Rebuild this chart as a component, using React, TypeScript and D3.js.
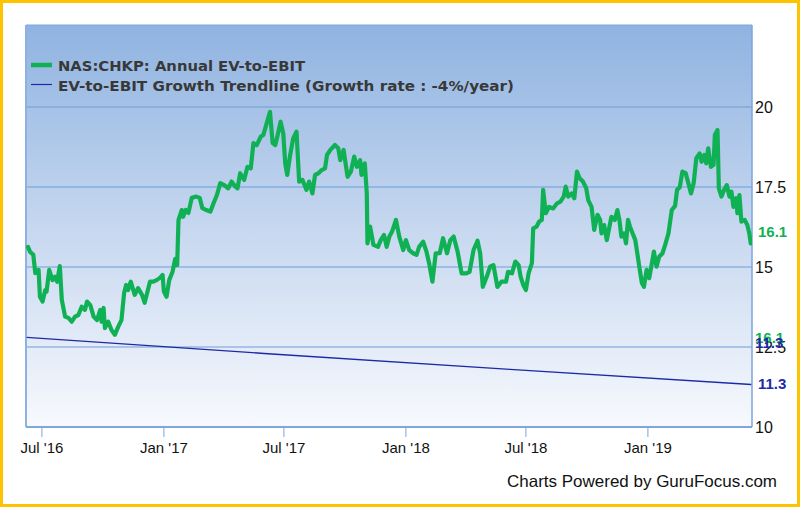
import React from "react";
import * as d3 from "d3";

const seriesDates: string[] = [
  "2016-06-10","2016-06-13","2016-06-18","2016-06-21","2016-06-26","2016-06-28","2016-07-02","2016-07-06","2016-07-08","2016-07-12",
  "2016-07-17","2016-07-21","2016-07-24","2016-07-28","2016-07-31","2016-08-05","2016-08-10","2016-08-15","2016-08-20","2016-08-25",
  "2016-08-30","2016-09-04","2016-09-07","2016-09-12","2016-09-17","2016-09-22","2016-09-27","2016-09-29","2016-10-02","2016-10-04",
  "2016-10-09","2016-10-14","2016-10-19","2016-10-24","2016-10-29","2016-11-02","2016-11-05","2016-11-08","2016-11-12","2016-11-18",
  "2016-11-23","2016-11-29","2016-12-03","2016-12-11","2016-12-16","2016-12-21","2016-12-26","2016-12-30","2017-01-01","2017-01-05",
  "2017-01-09","2017-01-14","2017-01-18","2017-01-21","2017-01-23","2017-01-28","2017-01-30","2017-02-03","2017-02-07","2017-02-12",
  "2017-02-19","2017-02-24","2017-02-28","2017-03-06","2017-03-12","2017-03-17","2017-03-22","2017-03-27","2017-04-02","2017-04-08",
  "2017-04-13","2017-04-18","2017-04-22","2017-04-26","2017-05-02","2017-05-07","2017-05-12","2017-05-16","2017-05-21","2017-05-27",
  "2017-05-31","2017-06-05","2017-06-10","2017-06-14","2017-06-18","2017-06-21","2017-06-26","2017-06-30","2017-07-03","2017-07-06",
  "2017-07-10","2017-07-15","2017-07-20","2017-07-24","2017-07-29","2017-08-04","2017-08-08","2017-08-13","2017-08-17","2017-08-22",
  "2017-08-27","2017-09-01","2017-09-04","2017-09-09","2017-09-16","2017-09-21","2017-09-24","2017-09-29","2017-10-05","2017-10-10",
  "2017-10-15","2017-10-19","2017-10-24","2017-10-26","2017-10-31","2017-11-03","2017-11-04","2017-11-08","2017-11-13","2017-11-20",
  "2017-11-24","2017-11-29","2017-12-03","2017-12-07","2017-12-11","2017-12-17","2017-12-22","2017-12-28","2018-01-01","2018-01-06",
  "2018-01-12","2018-01-17","2018-01-21","2018-01-27","2018-02-01","2018-02-05","2018-02-10","2018-02-15","2018-02-21","2018-02-26",
  "2018-03-04","2018-03-09","2018-03-14","2018-03-20","2018-03-26","2018-04-02","2018-04-07","2018-04-13","2018-04-19","2018-04-23",
  "2018-04-27","2018-05-03","2018-05-08","2018-05-13","2018-05-19","2018-05-25","2018-06-01","2018-06-04","2018-06-10","2018-06-15",
  "2018-06-20","2018-06-23","2018-06-27","2018-07-01","2018-07-05","2018-07-10","2018-07-12","2018-07-17","2018-07-21","2018-07-25",
  "2018-07-27","2018-07-31","2018-08-05","2018-08-11","2018-08-17","2018-08-22","2018-08-27","2018-08-30","2018-09-03","2018-09-08",
  "2018-09-12","2018-09-16","2018-09-20","2018-09-25","2018-09-30","2018-10-03","2018-10-08","2018-10-12","2018-10-17","2018-10-21",
  "2018-10-23","2018-10-27","2018-10-31","2018-11-04","2018-11-07","2018-11-12","2018-11-16","2018-11-19","2018-11-22","2018-11-26",
  "2018-11-29","2018-12-02","2018-12-05","2018-12-09","2018-12-13","2018-12-16","2018-12-19","2018-12-23","2018-12-26","2018-12-30",
  "2019-01-03","2019-01-07","2019-01-10","2019-01-14","2019-01-18","2019-01-23","2019-01-27","2019-02-01","2019-02-06","2019-02-11",
  "2019-02-14","2019-02-18","2019-02-22","2019-02-27","2019-03-03","2019-03-07","2019-03-11","2019-03-15","2019-03-20","2019-03-23",
  "2019-03-27","2019-03-30","2019-04-02","2019-04-06","2019-04-10","2019-04-12","2019-04-16","2019-04-18","2019-04-22","2019-04-26",
  "2019-04-30","2019-05-04","2019-05-07","2019-05-10","2019-05-14","2019-05-16","2019-05-19","2019-05-22","2019-05-27","2019-05-31",
  "2019-06-03","2019-06-05",
];

const evToEbit: number[] = [
  15.63,15.48,15.38,14.81,14.91,14.07,13.92,14.28,14.23,14.91,
  14.59,14.70,14.54,15.03,13.97,13.45,13.41,13.29,13.45,13.50,
  13.76,13.66,13.92,13.81,13.45,13.34,13.66,13.29,13.72,13.09,
  13.29,13.03,12.88,13.13,13.34,14.19,14.44,14.28,14.54,14.13,
  14.34,14.13,13.88,14.54,14.54,14.59,14.66,14.75,14.23,14.07,
  14.59,14.85,15.25,15.06,16.47,16.78,16.57,16.78,16.69,17.16,
  17.20,17.16,16.84,16.78,16.73,17.00,17.25,17.62,17.56,17.46,
  17.67,17.53,17.46,17.93,17.72,18.13,18.08,18.87,18.81,19.07,
  19.13,19.49,19.85,18.87,18.81,19.07,19.54,19.18,18.24,17.88,
  18.45,19.02,19.23,17.67,17.72,17.41,17.67,17.30,17.88,17.93,
  18.03,18.08,18.50,18.66,18.81,18.71,18.34,18.66,17.82,17.98,
  18.45,18.13,18.34,17.88,18.24,17.30,15.74,16.26,15.69,15.63,
  15.84,16.00,15.63,15.95,16.10,16.47,15.95,15.53,15.84,15.53,
  15.43,15.38,15.63,15.79,15.48,15.12,14.54,15.43,15.43,15.90,
  15.43,15.84,15.95,15.48,14.80,14.80,14.85,15.53,15.82,15.43,
  14.38,14.70,15.01,15.06,14.38,14.54,14.54,14.85,14.80,15.17,
  15.06,14.70,14.44,14.28,14.80,15.12,16.21,16.26,16.42,16.47,
  17.41,16.68,16.88,16.83,16.99,17.04,17.20,17.51,17.20,17.30,
  17.15,17.98,17.77,17.67,17.46,17.09,16.88,16.16,16.63,16.47,
  16.05,16.31,15.84,16.26,16.57,16.47,16.78,16.47,15.95,16.05,
  15.74,16.47,16.26,16.05,15.84,15.43,15.01,14.49,14.38,14.91,
  14.65,15.12,15.48,15.01,15.32,15.43,15.69,16.05,16.78,16.91,
  17.41,17.49,17.98,17.93,17.62,17.30,17.62,18.40,18.55,18.29,
  18.50,18.24,18.71,18.13,18.19,19.13,19.28,17.46,17.20,17.41,
  17.56,17.20,17.35,16.88,17.15,16.68,17.25,16.42,16.47,16.31,
  16.05,15.74,
];

const trendDates: string[] = ["2016-06-08", "2017-06-07", "2018-06-07", "2019-06-06"];
const trendValues: number[] = [12.8, 12.29, 11.8, 11.33];

const yTicks: number[] = [10, 12.5, 15, 17.5, 20];
const xTickDates: string[] = ["2016-07-01", "2017-01-01", "2017-07-01", "2018-01-01", "2018-07-01", "2019-01-01"];
const xTickLabels: string[] = ["Jul '16", "Jan '17", "Jul '17", "Jan '18", "Jul '18", "Jan '19"];

const legendSeries = "NAS:CHKP: Annual EV-to-EBIT";
const legendTrend = "EV-to-EBIT Growth Trendline (Growth rate : -4%/year)";
const lastSeriesLabel = "16.1";
const lastTrendLabel = "11.3";
const credit = "Charts Powered by GuruFocus.com";

const parse = d3.timeParse("%Y-%m-%d");

export default function App() {
  const W = 800, H = 507;
  const left = 26, right = 752, top = 25, bottom = 427;

  const x = d3.scaleTime()
    .domain([parse("2016-06-07")!, parse("2019-06-07")!])
    .range([left, right]);
  const y = d3.scaleLinear().domain([10, 20]).range([bottom, 107]);

  const series = seriesDates.map((d, i) => ({ date: parse(d)!, value: evToEbit[i] }));
  const trend = trendDates.map((d, i) => ({ date: parse(d)!, value: trendValues[i] }));

  const line = d3.line<{ date: Date; value: number }>()
    .x((d) => x(d.date))
    .y((d) => y(d.value))
    .curve(d3.curveLinear);

  const gridColor = "#6f9bd8";
  const axisFont = "'Liberation Sans', Arial, sans-serif";
  const legendFont = "'DejaVu Sans', Verdana, sans-serif";
  const green = "#10b155";
  const blue = "#1c2aa8";

  return (
    <svg width={W} height={H} style={{ position: "absolute", left: 0, top: 0 }} xmlns="http://www.w3.org/2000/svg">
      <defs>
        <linearGradient id="bg" x1="0" y1="0" x2="0" y2="1">
          <stop offset="0%" stopColor="#8fb3e1" />
          <stop offset="50%" stopColor="#c6d7ef" />
          <stop offset="100%" stopColor="#f7f9fd" />
        </linearGradient>
        <clipPath id="plotClip">
          <rect x={left} y={top} width={right - left} height={bottom - top} />
        </clipPath>
      </defs>
      <rect x={1.5} y={1.5} width={W - 3} height={H - 3} fill="#ffffff" stroke="#fdc300" strokeWidth={3} />
      <rect x={left} y={top} width={right - left} height={bottom - top} fill="url(#bg)" />

      {yTicks.map((t) => (
        <line key={t} x1={left} x2={right} y1={y(t)} y2={y(t)} stroke={gridColor} strokeWidth={1.2} />
      ))}
      <line x1={left} x2={right} y1={top} y2={top} stroke="#7ea5dc" strokeWidth={1} />
      <line x1={left} x2={left} y1={top} y2={bottom} stroke="#8fb0e2" strokeWidth={2} />
      <line x1={right} x2={right} y1={top} y2={bottom} stroke="#7ea5dc" strokeWidth={1.5} />
      <line x1={left} x2={right} y1={bottom} y2={bottom} stroke="#7ea5dc" strokeWidth={2} />

      {xTickDates.map((d, i) => {
        const xx = x(parse(d)!);
        return (
          <g key={d}>
            <line x1={xx} x2={xx} y1={bottom} y2={bottom + 10} stroke="#7ea5dc" strokeWidth={1} />
            <text x={xx} y={bottom + 26} textAnchor="middle" fontFamily={axisFont} fontSize={15} fill="#111">
              {xTickLabels[i]}
            </text>
          </g>
        );
      })}

      {yTicks.map((t) => (
        <text key={t} x={755} y={y(t) + 6} fontFamily={axisFont} fontSize={16} fill="#111">
          {t}
        </text>
      ))}

      <g clipPath="url(#plotClip)">
        <path d={line(trend) || ""} fill="none" stroke={blue} strokeWidth={1.4} />
        <path d={line(series) || ""} fill="none" stroke={green} strokeWidth={4.2} strokeLinejoin="round" strokeLinecap="round" />
      </g>

      <text x={758} y={y(evToEbit[evToEbit.length - 1] + 0.35) + 5} fontFamily={axisFont} fontWeight="bold" fontSize={15} fill={green}>
        {lastSeriesLabel}
      </text>
      <text x={758} y={y(trendValues[trendValues.length - 1]) + 5} fontFamily={axisFont} fontWeight="bold" fontSize={15} fill={blue}>
        {lastTrendLabel}
      </text>
      <text x={755} y={y(12.5) - 4} fontFamily={axisFont} fontWeight="bold" fontSize={15} fill={green}>
        {lastSeriesLabel}
      </text>
      <text x={755} y={y(12.5) + 1} fontFamily={axisFont} fontWeight="bold" fontSize={15} fill={blue}>
        {lastTrendLabel}
      </text>

      <line x1={31} x2={52} y1={65} y2={65} stroke={green} strokeWidth={4.5} />
      <text x={58} y={70.5} fontFamily={legendFont} fontWeight="bold" fontSize={14.5} fill="#383838"
        textLength={247} lengthAdjust="spacingAndGlyphs">{legendSeries}</text>
      <line x1={31} x2={52} y1={84.5} y2={84.5} stroke={blue} strokeWidth={1.2} />
      <text x={58} y={90.5} fontFamily={legendFont} fontWeight="bold" fontSize={14.5} fill="#383838"
        textLength={456} lengthAdjust="spacingAndGlyphs">{legendTrend}</text>

      <text x={777} y={487} textAnchor="end" fontFamily={axisFont} fontSize={16.5} fill="#111"
        textLength={270} lengthAdjust="spacingAndGlyphs">{credit}</text>
    </svg>
  );
}
